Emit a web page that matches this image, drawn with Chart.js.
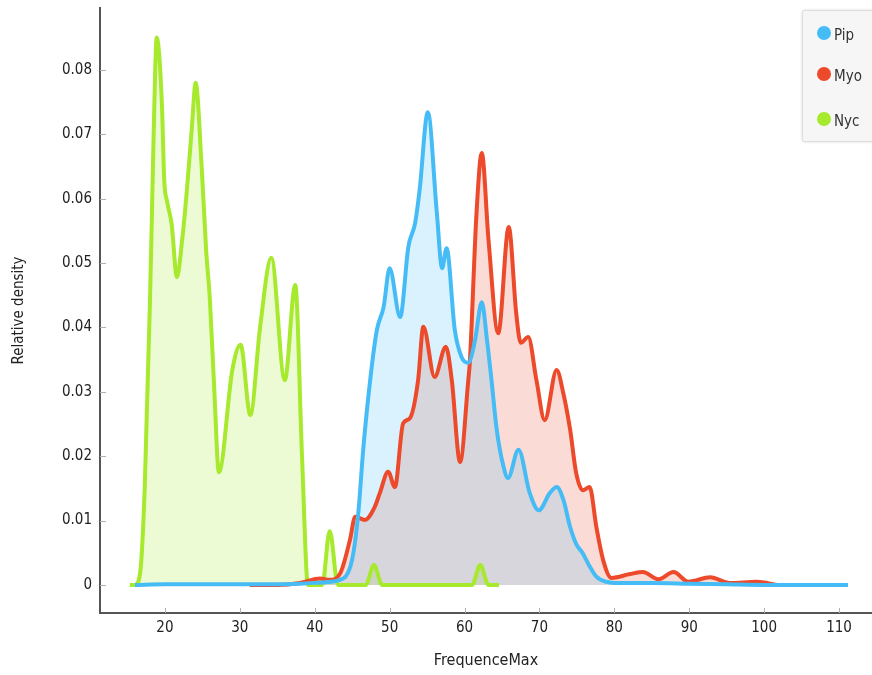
<!DOCTYPE html>
<html>
<head>
<meta charset="utf-8">
<script src="https://cdn.jsdelivr.net/npm/chart.js@4.4.1/dist/chart.umd.min.js"></script>
<style>
  body { margin: 0; background: #fff; }
  #wrap { position: relative; width: 872px; height: 675px; }
  #legend {
    position: absolute; left: 802px; top: 10px; width: 90px; height: 130px;
    background: #f6f6f6; border: 1px solid #dcdcdc; border-radius: 3px;
    box-shadow: 0 0 3px rgba(0,0,0,0.15);
    font: 15px "DejaVu Sans Condensed", "DejaVu Sans", sans-serif; color: #333;
  }
  .item { position: absolute; left: 14px; height: 16px; line-height: 16px; }
  .dot { position: absolute; left: 0; top: 1px; width: 14px; height: 14px; border-radius: 50%; }
  .item span { position: absolute; left: 17px; top: 2px; }
</style>
</head>
<body>
<div id="wrap">
  <canvas id="densityChart"></canvas>
  <div id="legend"></div>
</div>
<script>
// density curves
const seriesNames = ['Pip', 'Myo', 'Nyc'];
const seriesColors = ['#46bcf6', '#ec4a2b', '#a6e92d'];

const pipX = [16.0, 20, 25, 30, 35, 38, 41, 43.8, 45.0, 45.8, 46.5, 47.4, 48.3, 49.2, 50.0, 51.4, 52.5, 53.4, 54.0, 55.1, 56.3, 57.0, 57.6, 58.7, 59.6, 60.5, 61.4, 62.3, 63.0, 63.6, 64.3, 65.2, 65.8, 67.2, 68.7, 69.9, 71.4, 72.3, 73.2, 74.1, 74.9, 75.8, 76.7, 77.6, 78.9, 80.7, 85, 90, 95, 100, 105, 111.2];
const pipY = [0, 0.0001, 0.0001, 0.0001, 0.0001, 0.0002, 0.0004, 0.001, 0.004, 0.011, 0.0214, 0.0318, 0.0396, 0.0432, 0.0492, 0.0416, 0.0525, 0.0562, 0.0613, 0.0734, 0.0578, 0.0492, 0.0523, 0.0396, 0.0354, 0.0345, 0.038, 0.0439, 0.038, 0.0318, 0.0241, 0.0184, 0.0166, 0.0210, 0.0143, 0.0116, 0.0143, 0.0152, 0.0132, 0.009, 0.0064, 0.0049, 0.0029, 0.0013, 0.0005, 0.0003, 0.0003, 0.0002, 0.0001, 0, 0, 0];

const myoX = [31.3, 35, 38.0, 40.7, 42.0, 43.4, 44.7, 45.4, 46.7, 48.0, 48.7, 49.8, 50.7, 51.8, 52.7, 53.8, 54.5, 56.0, 57.5, 58.3, 59.4, 60.5, 60.7, 61.6, 62.3, 63.2, 64.5, 65.9, 66.9, 67.5, 68.5, 69.6, 70.7, 72.3, 73.2, 74.1, 74.9, 75.8, 76.7, 77.6, 78.5, 79.6, 82.1, 83.8, 85.9, 87.9, 89.9, 92.8, 95.4, 99.0, 101.7];
const myoY = [0, 0, 0.0003, 0.001, 0.0008, 0.0018, 0.007, 0.0106, 0.0101, 0.0121, 0.0143, 0.0176, 0.0152, 0.0251, 0.0259, 0.0318, 0.0401, 0.0323, 0.037, 0.0318, 0.0191, 0.0318, 0.0345, 0.0578, 0.0671, 0.0536, 0.0391, 0.0556, 0.0422, 0.0376, 0.0385, 0.0318, 0.0256, 0.0334, 0.0297, 0.0241, 0.0174, 0.0147, 0.0152, 0.009, 0.0039, 0.0011, 0.0017, 0.002, 0.0009, 0.002, 0.0005, 0.0012, 0.0003, 0.0005, 0];

const nycX = [15.3, 16.0, 16.7, 17.3, 18.0, 18.4, 18.7, 18.9, 19.6, 19.9, 20.3, 20.9, 21.6, 22.3, 22.9, 23.6, 24.1, 24.9, 25.5, 26.0, 26.6, 27.2, 29.0, 30.1, 31.4, 32.7, 34.2, 36.0, 37.4, 38.3, 39.1, 41.0, 42.0, 43.1, 46.8, 47.9, 49.0, 61.0, 62.1, 63.2, 64.6];
const nycY = [0, 0, 0.002, 0.015, 0.044, 0.065, 0.080, 0.085, 0.0745, 0.063, 0.0595, 0.056, 0.0478, 0.0536, 0.0609, 0.0711, 0.078, 0.065, 0.052, 0.0443, 0.03, 0.0175, 0.0334, 0.0373, 0.0264, 0.040, 0.0508, 0.0318, 0.0466, 0.02, 0, 0, 0.0084, 0, 0, 0.0031, 0, 0, 0.0031, 0, 0];

const xTicks = [20, 30, 40, 50, 60, 70, 80, 90, 100, 110];
const yTicks = [0, 0.01, 0.02, 0.03, 0.04, 0.05, 0.06, 0.07, 0.08];

const FONT = '"DejaVu Sans Condensed", "DejaVu Sans", sans-serif';

function hexToRgba(hex, a) {
    const n = parseInt(hex.slice(1), 16);
    return `rgba(${(n >> 16) & 255}, ${(n >> 8) & 255}, ${n & 255}, ${a})`;
}

function toPoints(xs, ys) {
    return xs.map((x, i) => ({ x: x, y: ys[i] }));
}

const seriesData = [toPoints(pipX, pipY), toPoints(myoX, myoY), toPoints(nycX, nycY)];

// small light tick marks drawn inside the plot area, like the original
const innerTicks = {
    id: 'innerTicks',
    beforeDatasetsDraw(chart) {
        const { ctx, chartArea, scales } = chart;
        ctx.save();
        ctx.strokeStyle = '#b0b0b0';
        ctx.lineWidth = 1;
        ctx.beginPath();
        xTicks.forEach(v => {
            const px = Math.round(scales.x.getPixelForValue(v)) + 0.5;
            ctx.moveTo(px, chartArea.bottom);
            ctx.lineTo(px, chartArea.bottom - 5);
        });
        yTicks.forEach(v => {
            const py = Math.round(scales.y.getPixelForValue(v)) + 0.5;
            ctx.moveTo(chartArea.left, py);
            ctx.lineTo(chartArea.left + 6, py);
        });
        ctx.stroke();
        ctx.restore();
    }
};

new Chart(document.getElementById('densityChart'), {
    type: 'line',
    data: {
        datasets: seriesNames.map((name, i) => ({
            label: name,
            data: seriesData[i],
            borderColor: seriesColors[i],
            backgroundColor: hexToRgba(seriesColors[i], 0.2),
            borderWidth: 4,
            pointRadius: 0,
            fill: 'origin',
            cubicInterpolationMode: 'monotone'
        }))
    },
    options: {
        responsive: true,
        maintainAspectRatio: false,
        animation: false,
        layout: { padding: { top: 8, right: 0, left: 0, bottom: 0 } },
        plugins: {
            legend: { display: false },
            tooltip: { enabled: false },
            filler: { drawTime: 'beforeDatasetsDraw' }
        },
        scales: {
            x: {
                type: 'linear',
                min: 11.33,
                max: 114.4,
                afterBuildTicks: s => { s.ticks = xTicks.map(v => ({ value: v })); },
                afterFit: s => { s.height = 62; s.paddingLeft = 0; s.paddingRight = 0; },
                grid: { drawOnChartArea: false, drawTicks: false },
                border: { color: '#555', width: 2 },
                ticks: { padding: 6, color: '#222', font: { family: FONT, size: 15 }, maxRotation: 0 },
                title: { display: true, text: 'FrequenceMax', color: '#222', font: { family: FONT, size: 16 }, padding: { top: 0, bottom: 5 } }
            },
            y: {
                min: -0.00435,
                max: 0.0896,
                afterBuildTicks: s => { s.ticks = yTicks.map(v => ({ value: v })); },
                afterFit: s => { s.width = 100; s.paddingTop = 0; s.paddingBottom = 0; },
                grid: { drawOnChartArea: false, drawTicks: false },
                border: { color: '#555', width: 2 },
                ticks: { padding: 8, color: '#222', font: { family: FONT, size: 15 }, callback: v => String(+v.toFixed(2)) },
                title: { display: true, text: 'Relative density', color: '#222', font: { family: FONT, size: 15 }, padding: { top: 10, bottom: 0 } }
            }
        }
    },
    plugins: [innerTicks]
});

// legend box in the upper right corner
const legendEl = document.getElementById('legend');
const legendTops = [14, 55, 100];
seriesNames.forEach((name, i) => {
    const item = document.createElement('div');
    item.className = 'item';
    item.style.top = legendTops[i] + 'px';
    item.innerHTML = `<div class="dot" style="background:${seriesColors[i]}"></div><span>${name}</span>`;
    legendEl.appendChild(item);
});
</script>
</body>
</html>
